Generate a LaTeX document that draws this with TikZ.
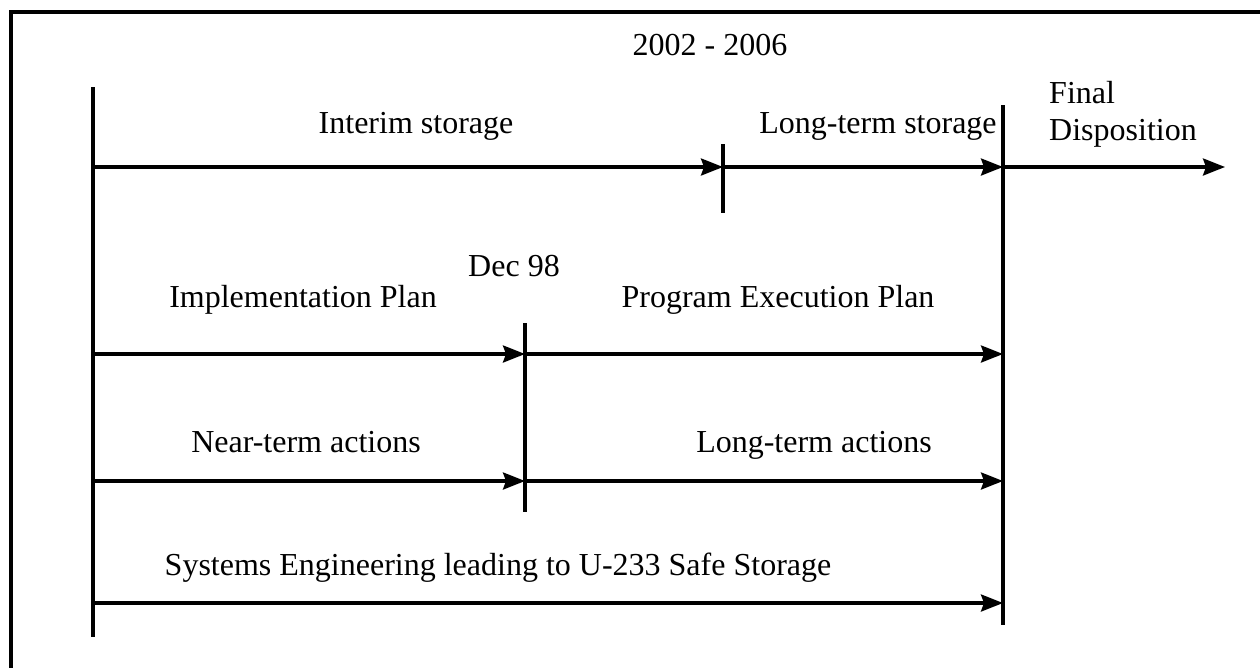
\documentclass[tikz,border=0pt]{standalone}
\usepackage{fontspec}
\setmainfont{Liberation Serif}
\usetikzlibrary{arrows.meta}
\begin{document}
\begin{tikzpicture}[x=1pt,y=-1pt,
  bar/.style={line width=3.2pt},
  arr/.style={line width=3.2pt,-{Stealth[length=22pt,width=17pt,inset=3pt]}},
  lbl/.style={anchor=base,inner sep=0pt,font=\fontsize{32}{36}\selectfont},
  lbll/.style={lbl,anchor=base west}]
\useasboundingbox (0,0) rectangle (1260,667);
\fill[white] (0,0) rectangle (1260,667);
% frame
\coordinate (fTR) at (1262,12);
\coordinate (fTL) at (11,12);
\coordinate (fBL) at (11,669);
\draw[line width=3.4pt] (fTR) -- (fTL) -- (fBL);
% vertical markers
\coordinate (v0t) at (93,87);   \coordinate (v0b) at (93,637);
\coordinate (v1t) at (723,144); \coordinate (v1b) at (723,213);
\coordinate (v2t) at (1003,105);\coordinate (v2b) at (1003,625);
\coordinate (v3t) at (525,323); \coordinate (v3b) at (525,512);
\draw[bar] (v0t) -- (v0b);
\draw[bar] (v1t) -- (v1b);
\draw[bar] (v2t) -- (v2b);
\draw[bar] (v3t) -- (v3b);
% row 1
\coordinate (r1a) at (93,167);
\coordinate (r1b) at (723,167);
\coordinate (r1c) at (1003,167);
\coordinate (r1d) at (1225,167);
\draw[arr] (r1a) -- (r1b);
\draw[arr] (r1b) -- (r1c);
\draw[arr] (r1c) -- (r1d);
% row 2
\coordinate (r2a) at (93,354);
\coordinate (r2b) at (525,354);
\coordinate (r2c) at (1003,354);
\draw[arr] (r2a) -- (r2b);
\draw[arr] (r2b) -- (r2c);
% row 3
\coordinate (r3a) at (93,481);
\coordinate (r3b) at (525,481);
\coordinate (r3c) at (1003,481);
\draw[arr] (r3a) -- (r3b);
\draw[arr] (r3b) -- (r3c);
% row 4
\coordinate (r4a) at (93,603);
\coordinate (r4b) at (1003,603);
\draw[arr] (r4a) -- (r4b);
% labels
\node[lbl] (tyears) at (710,55) {2002 - 2006};
\node[lbll] (tfinal) at (1049,103) {Final};
\node[lbll] (tdisp) at (1049,140) {Disposition};
\node[lbl] (tinterim) at (416,133) {Interim storage};
\node[lbl] (tlongst) at (878,133) {Long-term storage};
\node[lbl] (tdec) at (514,276) {Dec 98};
\node[lbl] (timpl) at (303,307) {Implementation Plan};
\node[lbl] (tpep) at (778,307) {Program Execution Plan};
\node[lbl] (tnear) at (306,452) {Near-term actions};
\node[lbl] (tlongact) at (814,452) {Long-term actions};
\node[lbl] (tse) at (498,575) {Systems Engineering leading to U-233 Safe Storage};
\end{tikzpicture}
\end{document}
